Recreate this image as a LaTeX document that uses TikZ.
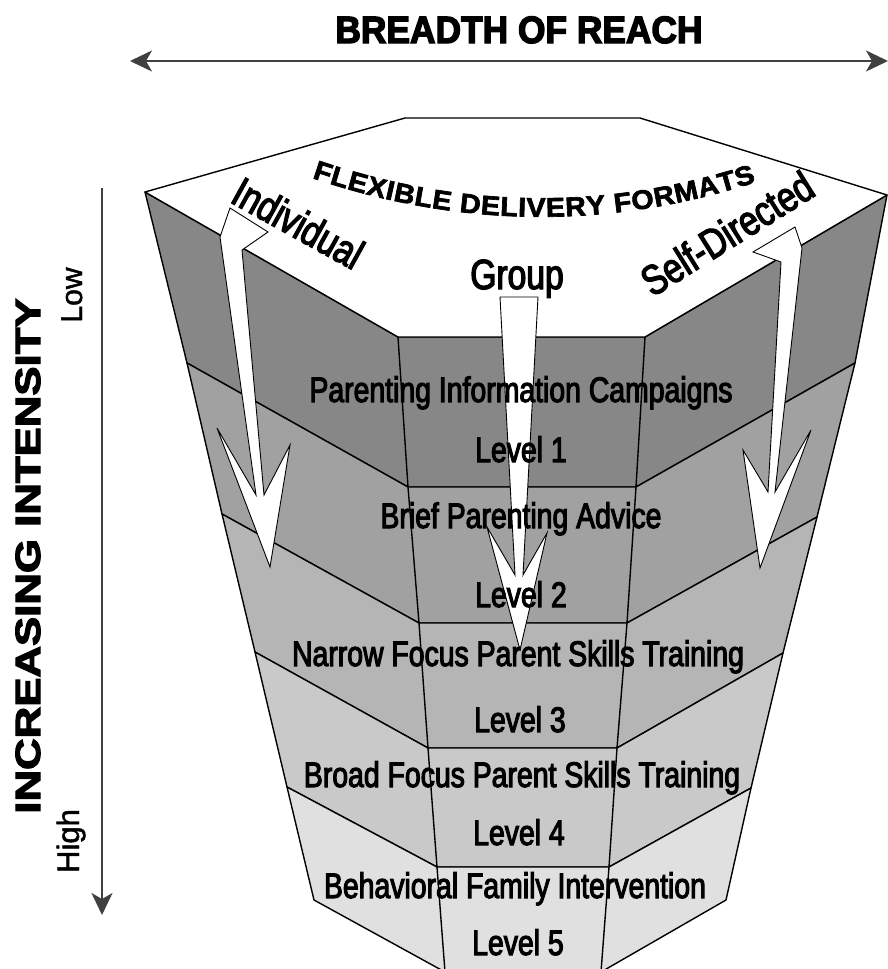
\documentclass[tikz,border=0pt]{standalone}
\usepackage{fontspec}
\usepackage{graphicx}
\setmainfont{Liberation Sans}
\newfontfamily\labfont[FakeStretch=0.80,FakeBold=3]{Liberation Sans}
\newfontfamily\smallfont[FakeBold=1.5]{Liberation Sans}
\newfontfamily\titlefont[FakeStretch=0.93,FakeBold=3.5]{Liberation Sans Bold}
\newfontfamily\axisfont[FakeBold=3]{Liberation Sans Bold}
\newfontfamily\flexfont[FakeStretch=1.06,FakeBold=2.5]{Liberation Sans Bold}
\usetikzlibrary{arrows.meta,decorations.text}
\definecolor{bandA}{gray}{0.53}
\definecolor{bandB}{gray}{0.63}
\definecolor{bandC}{gray}{0.71}
\definecolor{bandD}{gray}{0.79}
\definecolor{bandE}{gray}{0.88}
\definecolor{axisgray}{gray}{0.25}
\tikzset{
  edge/.style={line width=1.4pt, draw=black, line join=round},
  whitearrow/.style={fill=white, draw=black, line width=0.9pt, line join=miter},
  lvl/.style={font=\labfont\fontsize{35.5}{40}\selectfont, inner sep=0pt, anchor=base},
  toplab/.style={font=\labfont\fontsize{42}{46}\selectfont, inner sep=0pt, anchor=base},
  axisline/.style={line width=2pt, draw=axisgray},
  axistip/.tip={Stealth[length=22pt, width=21pt, inset=6pt]}
}
\begin{document}
\begin{tikzpicture}[x=1pt,y=-1pt]
\useasboundingbox (0,0) rectangle (888,969);
% frustum corners
\coordinate (L0) at (145,192); \coordinate (FL0) at (398,337); \coordinate (FR0) at (645,337); \coordinate (R0) at (887,195);
\coordinate (L1) at (187,363); \coordinate (FL1) at (408,487); \coordinate (FR1) at (636,487); \coordinate (R1) at (855,363);
\coordinate (L2) at (222,514); \coordinate (FL2) at (419,623); \coordinate (FR2) at (627,623); \coordinate (R2) at (817,517);
\coordinate (L3) at (255,652); \coordinate (FL3) at (428,748); \coordinate (FR3) at (617,748); \coordinate (R3) at (783,653);
\coordinate (L4) at (287,787); \coordinate (FL4) at (437,867); \coordinate (FR4) at (609,867); \coordinate (R4) at (751,788);
\coordinate (L5) at (314,900); \coordinate (FL5) at (445,972); \coordinate (FR5) at (601,972); \coordinate (R5) at (726,900);
\coordinate (T1) at (405,118); \coordinate (T2) at (640,118);
% bands
\foreach \i/\j/\c in {0/1/bandA,1/2/bandB,2/3/bandC,3/4/bandD,4/5/bandE}{
  \filldraw[edge, fill=\c] (L\i) -- (FL\i) -- (FR\i) -- (R\i) -- (R\j) -- (FR\j) -- (FL\j) -- (L\j) -- cycle;
  \draw[edge] (FL\i) -- (FL\j) (FR\i) -- (FR\j);
}
% top face
\filldraw[edge, fill=white] (L0) -- (T1) -- (T2) -- (R0) -- (FR0) -- (FL0) -- cycle;
% white arrows
\filldraw[whitearrow] (230,208) -- (268,232) -- (242,250) -- (264,495) -- (290,445) -- (270,567) -- (217,428) -- (256,495) -- (220,237) -- cycle;
\filldraw[whitearrow] (500,297) -- (538,297) -- (523,575) -- (547,533) -- (520,650) -- (487,527) -- (515,575) -- cycle;
\filldraw[whitearrow] (795,227) -- (802,248) -- (775,492) -- (811,430) -- (760,568) -- (743,450) -- (768,492) -- (781,262) -- (753,252) -- cycle;
% top face labels
\coordinate (flexA) at (312,178);
\coordinate (flexB) at (756,182);
\path[decorate, decoration={text along path, text={|\flexfont\fontsize{27}{31}\selectfont|FLEXIBLE DELIVERY FORMATS}, text align=fit to path}]
  (flexA) .. controls (460,228) and (608,230) .. (flexB);
\node[toplab, rotate=-29] (ind) at (291,236) {Individual};
\node[toplab] (grp) at (517,289) {Group};
\node[toplab, rotate=32] (self) at (735,246) {Self-Directed};
% level labels
\node[lvl] (p1) at (521,402) {Parenting Information Campaigns};
\node[lvl] (l1) at (521,462) {Level 1};
\node[lvl] (p2) at (521,528) {Brief Parenting Advice};
\node[lvl] (l2) at (521,607) {Level 2};
\node[lvl] (p3) at (518,666) {Narrow Focus Parent Skills Training};
\node[lvl] (l3) at (520,732) {Level 3};
\node[lvl] (p4) at (522,787) {Broad Focus Parent Skills Training};
\node[lvl] (l4) at (519,845) {Level 4};
\node[lvl] (p5) at (515,898) {Behavioral Family Intervention};
\node[lvl] (l5) at (518,955) {Level 5};
% axes
\node[font=\titlefont\fontsize{38}{44}\selectfont, inner sep=0pt, anchor=base] (title) at (519,43) {BREADTH OF REACH};
\coordinate (hA) at (130,61);
\coordinate (hB) at (888,61);
\draw[axisline, axistip-axistip] (hA) -- (hB);
\coordinate (vA) at (102,188);
\coordinate (vB) at (102,915);
\draw[axisline, -axistip] (vA) -- (vB);
\node[font=\axisfont\fontsize{35}{40}\selectfont, inner sep=0pt, rotate=90, anchor=base] (inten) at (40,556) {\scalebox{1.25}[1]{INCREASING INTENSITY}};
\node[font=\smallfont\fontsize{30}{34}\selectfont, inner sep=0pt, rotate=90, anchor=base] (low) at (82,295) {Low};
\node[font=\smallfont\fontsize{31}{34}\selectfont, inner sep=0pt, rotate=90, anchor=base] (high) at (79,841) {High};
\end{tikzpicture}
\end{document}
